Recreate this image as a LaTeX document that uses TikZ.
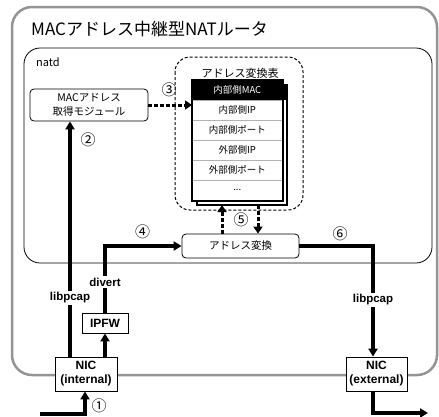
\documentclass[tikz,border=0pt]{standalone}
\usepackage{fontspec}
\setmainfont{Noto Sans CJK JP}
\newfontfamily\hb{Liberation Sans}
\usetikzlibrary{arrows.meta}
\begin{document}
\begin{tikzpicture}[x=1pt,y=-1pt,
  thickarrow/.style={line width=3.2pt,-{Triangle[length=8pt,width=9pt]}},
  dotarrow/.style={line width=3pt,dash pattern=on 4pt off 2pt,-{Triangle[length=7pt,width=9pt]}},
  num/.style={font=\fontsize{15}{15}\selectfont, inner sep=0pt},
  blabel/.style={font=\hb\bfseries\fontsize{11.5}{13}\selectfont, fill=white, inner sep=1.5pt},
  bbox/.style={draw, line width=0.8pt, fill=white, font=\hb\bfseries\fontsize{12}{14}\selectfont, align=center, inner sep=0pt},
  rbox/.style={draw, rounded corners=4pt, line width=0.8pt, fill=white, align=center, inner sep=0pt},
  rowbox/.style={draw=gray!60, line width=0.6pt, minimum width=90pt, minimum height=20pt, inner sep=0pt, font=\fontsize{9.5}{10}\selectfont, anchor=north west}
]
\useasboundingbox (0,0) rectangle (439,416);
\fill[white] (0,0) rectangle (439,416);
% outer router frame
\draw[gray!80!black!70, line width=2.5pt, rounded corners=20pt] (12,7) rectangle (437,375);
\node[anchor=west, font=\fontsize{17}{17}\selectfont, inner sep=0pt] (title) at (31,29) {MACアドレス中継型NATルータ};
% natd frame
\draw[line width=0.8pt, rounded corners=16pt] (24,48) rectangle (432,263);
\node[anchor=west, font=\fontsize{11}{11}\selectfont, inner sep=0pt] (natd) at (36,62) {natd};
% dashed table frame
\draw[dash pattern=on 3pt off 2pt, line width=1pt, rounded corners=15pt] (175,57) rectangle (303,210);
\node[font=\fontsize{11}{11}\selectfont, inner sep=0pt] (tbltitle) at (240,73) {アドレス変換表};
% back table
\draw[line width=2pt, fill=white] (197,85) rectangle (287,205);
\fill (197,85) rectangle (287,100);
% front table
\node[rowbox, fill=black, text=white] (r1) at (192,80) {内部側MAC};
\node[rowbox, fill=white] (r2) at (192,100) {内部側IP};
\node[rowbox, fill=white] (r3) at (192,120) {内部側ポート};
\node[rowbox, fill=white] (r4) at (192,140) {外部側IP};
\node[rowbox, fill=white] (r5) at (192,160) {外部側ポート};
\node[rowbox, fill=white] (r6) at (192,180) {...};
\draw[line width=2pt] (r1.north west) rectangle (r6.south east);
% boxes
\node[rbox, minimum width=118pt, minimum height=32pt, font=\fontsize{10.5}{14}\selectfont] (macmod) at (89,105) {MACアドレス\\取得モジュール};
\node[rbox, minimum width=117pt, minimum height=24pt, font=\fontsize{10.5}{12}\selectfont] (conv) at (240.5,246) {アドレス変換};
\node[bbox, minimum width=46pt, minimum height=20pt] (ipfw) at (105,323) {IPFW};
\node[bbox, minimum width=62pt, minimum height=34pt] (nicin) at (86,374) {NIC\\(internal)};
\node[bbox, minimum width=61pt, minimum height=34pt] (nicex) at (376.5,374) {NIC\\(external)};
% helper coordinates
\coordinate (p2) at (70,0);
\coordinate (p1) at (85,0);
\coordinate (in0) at (40,414);
\coordinate (xr) at (373,0);
\coordinate (out1) at (428,413);
\coordinate (tb) at (0,205);
\coordinate (c5a) at (222,0);
\coordinate (c5b) at (258,0);
% connectors
\draw[thickarrow] (nicin.north -| p2) -- (macmod.south -| p2);
\draw[thickarrow] (nicin.north -| ipfw) -- (ipfw.south);
\draw[thickarrow] (ipfw.north) -- (ipfw.north |- conv.west) -- (conv.west);
\draw[thickarrow] (conv.east) -- (conv.east -| xr) -- (nicex.north -| xr);
\draw[thickarrow] (in0) -- (in0 -| p1) -- (nicin.south -| p1);
\draw[thickarrow] (nicex.south -| xr) -- (xr |- out1) -- (out1);
\draw[dotarrow] (macmod.east) -- (macmod.east -| r1.west);
\draw[dotarrow] (conv.north -| c5a) -- (tb -| c5a);
\draw[dotarrow] (tb -| c5b) -- (conv.north -| c5b);
% labels on lines
\node[blabel] (divert) at (105,282) {divert};
\node[blabel] (lpl) at (70,298) {libpcap};
\node[blabel] (lpr) at (373,300) {libpcap};
% step numbers
\node[num] (n1) at (99,406) {①};
\node[num] (n2) at (88,139.5) {②};
\node[num] (n3) at (169,90) {③};
\node[num] (n4) at (142.5,231.5) {④};
\node[num] (n5) at (241,220) {⑤};
\node[num] (n6) at (340,234) {⑥};
\end{tikzpicture}
\end{document}
